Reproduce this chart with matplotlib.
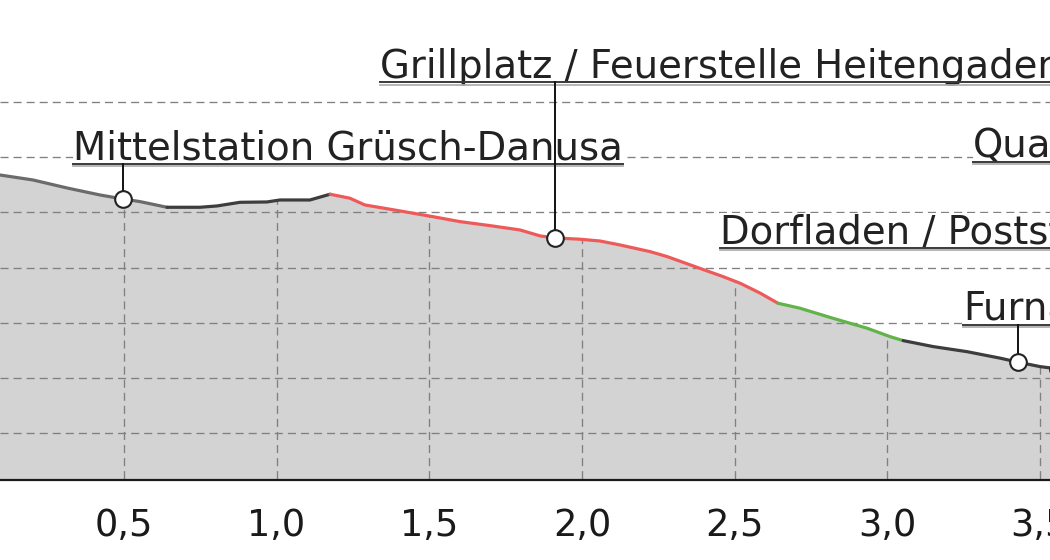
import numpy as np
import matplotlib
matplotlib.use("Agg")
import matplotlib.pyplot as plt

# elevation profile (km, m)
km = np.array([0.0, 0.094, 0.202, 0.313, 0.422, 0.497, 0.553, 0.641, 0.749, 0.805,
               0.880, 0.968, 1.011, 1.109, 1.175, 1.240, 1.289, 1.404, 1.512, 1.601,
               1.699, 1.797, 1.863, 1.912, 1.994, 2.059, 2.125, 2.223, 2.279, 2.387,
               2.462, 2.518, 2.584, 2.642, 2.714, 2.822, 2.934, 3.009, 3.052, 3.150,
               3.261, 3.370, 3.428, 3.500, 3.533, 3.600])
elev = np.array([1537.3, 1533.7, 1529.2, 1522.0, 1515.6, 1512.0, 1509.6, 1504.5, 1504.5, 1505.7,
                 1509.0, 1509.3, 1511.1, 1511.1, 1516.3, 1512.7, 1506.6, 1501.2, 1496.0, 1491.5,
                 1487.9, 1484.0, 1478.6, 1476.8, 1475.6, 1474.0, 1470.4, 1464.4, 1459.9, 1449.2,
                 1441.8, 1435.8, 1426.8, 1417.7, 1413.2, 1404.1, 1395.1, 1387.5, 1383.9, 1378.5,
                 1373.9, 1368.0, 1364.4, 1360.4, 1359.2, 1357.0])

# coloured stretches of the route
seg_breaks = [0.0, 0.641, 1.175, 2.642, 3.052, 3.600]
seg_colors = ['#6b6b6b', '#3d3d3d', '#ee5a5a', '#62b34a', '#3d3d3d']

# points of interest
poi_names = ["Mittelstation Grüsch-Danusa", "Grillplatz / Feuerstelle Heitengaden",
             "Dorfladen / Poststelle", "Quadra", "Furna"]
poi_km = [0.497, 1.912, 3.56, 3.58, 3.428]
poi_elev = [1512.0, 1476.8, 1358.0, 1357.5, 1364.4]
label_km = [0.333, 1.339, 2.452, 3.281, 3.248]
label_elev = [1547.9, 1621.7, 1471.8, 1550.0, 1402.6]

xticks = [0.0, 0.5, 1.0, 1.5, 2.0, 2.5, 3.0, 3.5]
xticklabels = [f"{v:.1f}".replace('.', ',') for v in xticks]
ygrid = [1300, 1350, 1400, 1450, 1500, 1550, 1600]

fig = plt.figure(figsize=(10.5, 5.6), dpi=100)
ax = fig.add_axes([0, 80/560, 1, 480/560])

grid_style = dict(color='#808080', lw=0.95, linestyle=(0, (6.1, 3.8)))

ax.fill_between(km, elev, 1200, color='#d3d3d3', lw=0, zorder=1)
for y in ygrid:
    ax.axhline(y, zorder=1.5, **grid_style)
ax.vlines(xticks, 1200, np.interp(xticks, km, elev), zorder=1.5, **grid_style)

for i, c in enumerate(seg_colors):
    m = (km >= seg_breaks[i]) & (km <= seg_breaks[i + 1])
    ax.plot(km[m], elev[m], color=c, lw=2.3, solid_capstyle='round', zorder=2)

for s in ['top', 'left', 'right']:
    ax.spines[s].set_visible(False)
ax.spines['bottom'].set_linewidth(1.6)
ax.spines['bottom'].set_color('#1a1a1a')
ax.spines['bottom'].set_zorder(4)

ax.set_xticks(xticks)
ax.set_xticklabels(xticklabels)
ax.set_yticks([])
ax.tick_params(axis='x', length=0, pad=19.4, labelsize=26.5, labelcolor='#1a1a1a')
# limits after ticks, set_xticks would widen them
ax.set_xlim(0.094, 3.533)
ax.set_ylim(1257.8, 1692.0)

texts = []
for name, lx, ly in zip(poi_names, label_km, label_elev):
    t = ax.text(lx, ly, name, fontsize=27.8, color='#222222', ha='left', va='baseline',
                bbox=dict(facecolor='white', edgecolor='none', pad=0), zorder=3)
    texts.append(t)

fig.canvas.draw()
renderer = fig.canvas.get_renderer()
inv = ax.transData.inverted()
for t, px, py, lx, ly in zip(texts, poi_km, poi_elev, label_km, label_elev):
    bb = t.get_window_extent(renderer)
    base = ax.transData.transform((lx, ly))[1]
    (x0, uy), (x1, _) = inv.transform([(bb.x0, base - 4.6), (bb.x1, base - 4.6)])
    _, uy2 = inv.transform((bb.x0, base - 6.8))
    ax.plot([x0, x1], [uy2, uy2], color='#b0b0b0', lw=1.3, zorder=3.1)
    ax.plot([x0, x1], [uy, uy], color='#3a3a3a', lw=1.4, zorder=3.2)
    ax.plot([px, px], [uy, py], color='#111111', lw=1.4, zorder=3.2)
    ax.plot(px, py, 'o', ms=12, mfc='white', mec='#222222', mew=1.5, zorder=3.5)

fig.savefig('out.png', dpi=100)
